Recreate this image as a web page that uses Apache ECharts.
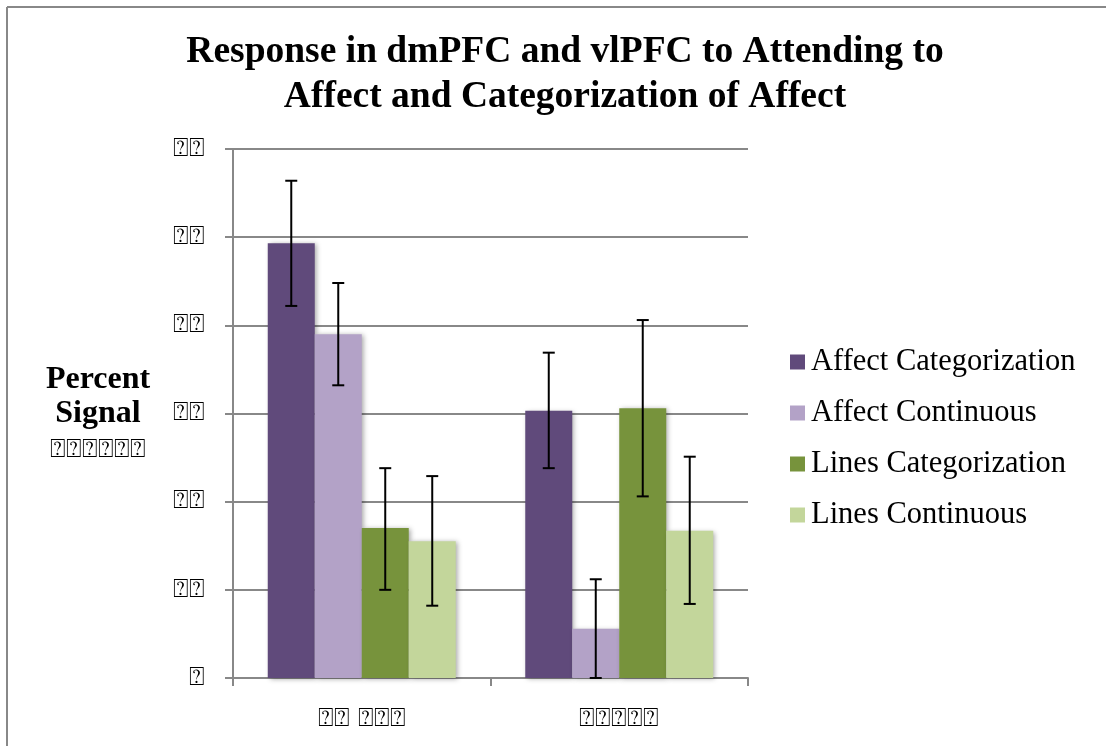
<!DOCTYPE html>
<html><head><meta charset="utf-8">
<script src="https://cdn.jsdelivr.net/npm/echarts@6/dist/echarts.min.js"></script>
<style>html,body{margin:0;padding:0;background:#fff}#c{width:1106px;height:746px}</style>
</head><body><div id="c"></div>
<script>
// Category labels and tick labels as they appear in the reference (rendered as missing-glyph boxes)
const categories = ['⍰⍰ ⍰⍰⍰', '⍰⍰⍰⍰⍰'];
const seriesNames = ['Affect Categorization', 'Affect Continuous', 'Lines Categorization', 'Lines Continuous'];
const affectCat = [0.493, 0.303];
const affectCont = [0.390, 0.056];
const linesCat = [0.170, 0.306];
const linesCont = [0.155, 0.167];
const affectCatErr = [[0.422, 0.564], [0.238, 0.369]];
const affectContErr = [[0.332, 0.448], [0.000, 0.112]];
const linesCatErr = [[0.100, 0.238], [0.206, 0.406]];
const linesContErr = [[0.082, 0.229], [0.084, 0.251]];
const tickValues = [0, 0.1, 0.2, 0.3, 0.4, 0.5, 0.6];
const tickLabels = ['⍰', '⍰⍰', '⍰⍰', '⍰⍰', '⍰⍰', '⍰⍰', '⍰⍰'];
const yNameLines = ['Percent', 'Signal', '⍰⍰⍰⍰⍰⍰'];
const colors = ['#604a7b', '#b3a2c7', '#77933c', '#c3d69b'];

const values = [affectCat, affectCont, linesCat, linesCont];
const errs = [affectCatErr, affectContErr, linesCatErr, linesContErr];
const GAP = 0.27;

const chart = echarts.init(document.getElementById('c'));
const series = [];
values.forEach((v, i) => {
  series.push({
    name: seriesNames[i], type: 'bar', data: v,
    barGap: '0%', barCategoryGap: (GAP * 100) + '%',
    itemStyle: { color: colors[i], shadowBlur: 5, shadowColor: 'rgba(0,0,0,0.35)', shadowOffsetX: 2, shadowOffsetY: 1 },
    z: 2
  });
});
errs.forEach((e, i) => {
  series.push({
    type: 'custom', name: 'err' + i, silent: true, z: 5,
    data: e.map((d, j) => [j, d[0], d[1]]),
    renderItem: function (params, api) {
      const c = api.value(0);
      const lo = api.coord([c, api.value(1)]);
      const hi = api.coord([c, api.value(2)]);
      const band = api.size([1, 0])[0];
      const bw = band * (1 - GAP) / 4;
      const x = lo[0] - band * (1 - GAP) / 2 + bw * (i + 0.5);
      const cap = 6;
      const st = { stroke: '#000', lineWidth: 2 };
      return { type: 'group', children: [
        { type: 'line', shape: { x1: x, y1: lo[1], x2: x, y2: hi[1] }, style: st },
        { type: 'line', shape: { x1: x - cap, y1: lo[1], x2: x + cap, y2: lo[1] }, style: st },
        { type: 'line', shape: { x1: x - cap, y1: hi[1], x2: x + cap, y2: hi[1] }, style: st }
      ]};
    }
  });
});

chart.setOption({
  animation: false,
  backgroundColor: '#fff',
  title: {
    text: 'Response in dmPFC and vlPFC to Attending to\nAffect and Categorization of Affect',
    left: 560, textAlign: 'center', top: 25,
    textStyle: { fontFamily: 'Liberation Serif', fontWeight: 'bold', fontSize: 37.5, lineHeight: 45, color: '#000' }
  },
  legend: {
    orient: 'vertical', left: 785, top: 341,
    data: seriesNames,
    itemWidth: 15, itemHeight: 15, itemGap: 19,
    icon: 'rect',
    textStyle: { fontFamily: 'Liberation Serif', fontSize: 30.5, lineHeight: 32, color: '#000', padding: [0, 0, 0, 1] }
  },
  grid: { left: 233, right: 358, top: 149, bottom: 68, containLabel: false },
  xAxis: {
    type: 'category', data: categories,
    axisLine: { lineStyle: { color: '#888', width: 2 } },
    axisTick: { show: true, length: 8, inside: false, lineStyle: { color: '#888', width: 2 } },
    axisLabel: { fontFamily: 'DejaVu Sans', fontSize: 26, color: '#000', margin: 28 }
  },
  yAxis: {
    type: 'value', min: 0, max: 0.6, interval: 0.1,
    axisLine: { show: true, lineStyle: { color: '#888', width: 2 } },
    axisTick: { show: true, length: 8, lineStyle: { color: '#888', width: 2 } },
    splitLine: { lineStyle: { color: '#888', width: 2 } },
    axisLabel: {
      fontFamily: 'DejaVu Sans', fontSize: 26, color: '#000', margin: 28,
      formatter: function (v) {
        const k = tickValues.findIndex(t => Math.abs(t - v) < 1e-6);
        return k >= 0 ? tickLabels[k] : '';
      }
    }
  },
  graphic: [
    { type: 'line', shape: { x1: 7, y1: 7, x2: 1106, y2: 7 }, style: { stroke: '#888', lineWidth: 2 } },
    { type: 'line', shape: { x1: 7, y1: 7, x2: 7, y2: 746 }, style: { stroke: '#888', lineWidth: 2 } },
    { type: 'text', x: 98, y: 380, style: { text: yNameLines[0], fontFamily: 'Liberation Serif', fontWeight: 'bold', fontSize: 32, fill: '#000', textAlign: 'center', textVerticalAlign: 'middle' } },
    { type: 'text', x: 98, y: 414, style: { text: yNameLines[1], fontFamily: 'Liberation Serif', fontWeight: 'bold', fontSize: 32, fill: '#000', textAlign: 'center', textVerticalAlign: 'middle' } },
    { type: 'text', x: 98, y: 450, style: { text: yNameLines[2], fontFamily: 'DejaVu Sans', fontSize: 26, fill: '#000', textAlign: 'center', textVerticalAlign: 'middle' } }
  ],
  series: series
});
</script>
</body></html>
